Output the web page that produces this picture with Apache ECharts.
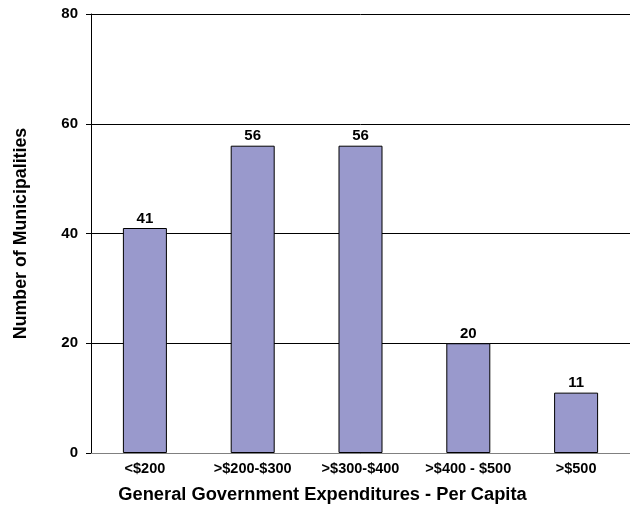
<!DOCTYPE html>
<html><head><meta charset="utf-8">
<script src="https://cdn.jsdelivr.net/npm/echarts@6/dist/echarts.min.js"></script>
<style>html,body{margin:0;padding:0;background:#fff}#c{width:630px;height:512px}</style>
</head><body><div id="c"></div>
<script>
const categories = ['<$200', '>$200-$300', '>$300-$400', '>$400 - $500', '>$500'];
const counts = [41, 56, 56, 20, 11];
const yTicks = [0, 20, 40, 60, 80];

const chart = echarts.init(document.getElementById('c'));
const font = 'Arial, "Liberation Sans", sans-serif';
chart.setOption({
  animation: false,
  grid: {left: 91, right: 0, top: 14, bottom: 59, outerBoundsMode: 'none'},
  xAxis: {
    type: 'category', data: categories,
    axisLine: {lineStyle: {color: '#808080', width: 1}},
    axisTick: {show: false},
    axisLabel: {interval: 0, hideOverlap: false, color: '#000', fontWeight: 'bold', fontSize: 14.5, fontFamily: font, margin: 8},
    name: 'General Government Expenditures - Per Capita',
    nameLocation: 'middle', nameGap: 33,
    nameTextStyle: {color: '#000', fontWeight: 'bold', fontSize: 18.3, fontFamily: font, padding: [0, 76, 0, 0]}
  },
  yAxis: {
    type: 'value', min: yTicks[0], max: yTicks[yTicks.length - 1], interval: 20,
    axisLine: {show: true, lineStyle: {color: '#000', width: 1}},
    axisTick: {show: true, length: 5, lineStyle: {color: '#000'}},
    splitLine: {lineStyle: {color: '#000', width: 1}},
    axisLabel: {color: '#000', fontWeight: 'bold', fontSize: 15, fontFamily: font, margin: 13},
    name: 'Number of Municipalities',
    nameLocation: 'middle', nameGap: 61,
    nameTextStyle: {color: '#000', fontWeight: 'bold', fontSize: 17.8, fontFamily: font}
  },
  series: [{
    type: 'bar', data: counts, barWidth: 44,
    itemStyle: {color: '#9999CC', borderColor: '#000', borderWidth: 1},
    label: {show: true, position: 'top', distance: 2, color: '#000', fontWeight: 'bold', fontSize: 15, fontFamily: font}
  }]
});
</script></body></html>
